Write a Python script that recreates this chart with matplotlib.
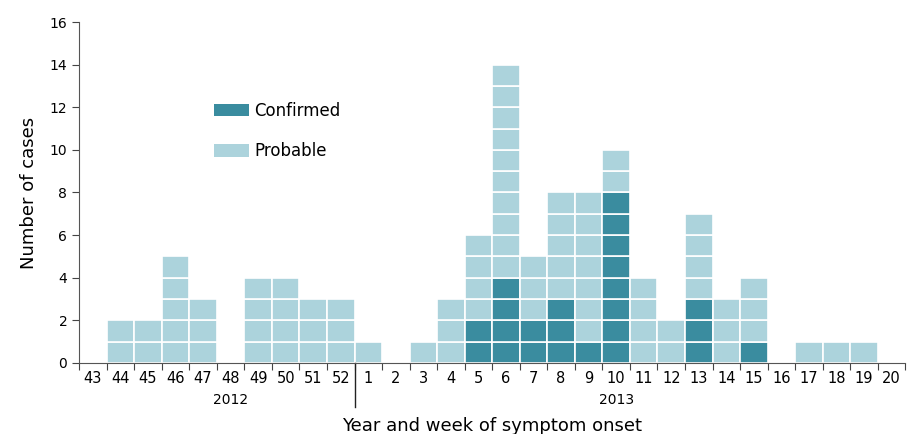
import matplotlib.pyplot as plt
import numpy as np
from matplotlib.patches import Patch

# --------------------------
# Data
# --------------------------
weeks = [43, 44, 45, 46, 47, 48, 49, 50, 51, 52,
         1, 2, 3, 4, 5, 6, 7, 8, 9, 10, 11, 12, 13, 14, 15, 16, 17, 18, 19, 20]
total = [0, 2, 2, 5, 3, 0, 4, 4, 3, 3,
         1, 0, 1, 3, 6, 14, 5, 8, 8, 10, 4, 2, 7, 3, 4, 0, 1, 1, 1, 0]
confirmed = [0, 0, 0, 0, 0, 0, 0, 0, 0, 0,
             0, 0, 0, 0, 2, 4, 2, 3, 1, 8, 0, 0, 3, 0, 1, 0, 0, 0, 0, 0]
years = ["2012", "2013"]

c_conf = "#3a8c9f"
c_prob = "#acd3dc"

fig = plt.figure(figsize=(9.09, 4.34), dpi=100)
ax = fig.add_axes([0.087, 0.164, 0.909, 0.785])

x = np.arange(len(weeks)) + 0.5
total = np.array(total)
confirmed = np.array(confirmed)

# one cell per case
for k in range(total.max()):
    idx = total > k
    cols = [c_conf if k < c else c_prob for c in confirmed[idx]]
    ax.bar(x[idx], 1, bottom=k, width=1, color=cols, edgecolor="white", linewidth=1.2)

ax.set_xlim(0, len(weeks))
ax.set_ylim(0, 16)
ax.set_yticks(range(0, 17, 2))

ax.set_xticks(np.arange(len(weeks) + 1))
ax.set_xticklabels([])
ax.set_xticks(x, minor=True)
ax.set_xticklabels([str(w) for w in weeks], minor=True)
ax.tick_params(axis="x", which="minor", length=0, pad=6, labelsize=10.5)
ax.tick_params(axis="x", which="major", length=5, direction="out", color="#444444")
ax.tick_params(axis="y", length=5, labelsize=10, color="#444444")

for s in ["top", "right"]:
    ax.spines[s].set_visible(False)
for s in ["left", "bottom"]:
    ax.spines[s].set_color("#555555")

# year separator and year labels
ax.plot([10, 10], [0, -2.07], color="#222222", linewidth=1, clip_on=False)
ax.text(5.5, -1.75, years[0], ha="center", va="center", fontsize=10)
ax.text(19.5, -1.75, years[1], ha="center", va="center", fontsize=10)

ax.set_ylabel("Number of cases", fontsize=13, labelpad=8)
ax.set_xlabel("Year and week of symptom onset", fontsize=13, labelpad=22)

# legend
handles = [Patch(facecolor=c_conf, label="Confirmed"),
           Patch(facecolor=c_prob, label="Probable")]
ax.legend(handles=handles, loc="upper left", bbox_to_anchor=(0.145, 0.81), frameon=False,
          fontsize=12, handlelength=2.1, handleheight=0.8, handletextpad=0.3, labelspacing=1.35)

plt.savefig("out.png", dpi=100)
